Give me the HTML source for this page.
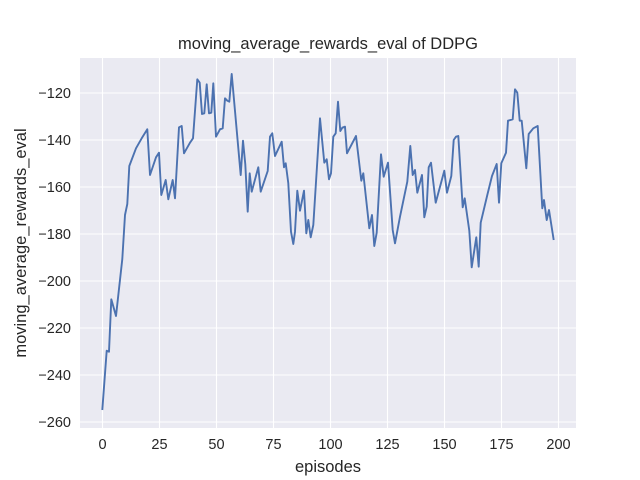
<!DOCTYPE html>
<html><head><style>body{margin:0;background:#fff}svg{display:block}text{font-family:"Liberation Sans",Arial,sans-serif;fill:#262626}</style></head><body>
<svg width="640" height="480" xmlns="http://www.w3.org/2000/svg">
<rect x="80" y="58" width="496" height="370" fill="#eaeaf2"/>
<g stroke="#fff" stroke-width="1.1">
<line x1="102.5" y1="58" x2="102.5" y2="428"/><line x1="159.5" y1="58" x2="159.5" y2="428"/><line x1="216.5" y1="58" x2="216.5" y2="428"/><line x1="273.5" y1="58" x2="273.5" y2="428"/><line x1="330.5" y1="58" x2="330.5" y2="428"/><line x1="387.5" y1="58" x2="387.5" y2="428"/><line x1="444.5" y1="58" x2="444.5" y2="428"/><line x1="501.5" y1="58" x2="501.5" y2="428"/><line x1="558.5" y1="58" x2="558.5" y2="428"/>
<line x1="80" y1="93" x2="576" y2="93"/><line x1="80" y1="140" x2="576" y2="140"/><line x1="80" y1="187" x2="576" y2="187"/><line x1="80" y1="234" x2="576" y2="234"/><line x1="80" y1="281" x2="576" y2="281"/><line x1="80" y1="328" x2="576" y2="328"/><line x1="80" y1="375" x2="576" y2="375"/><line x1="80" y1="422" x2="576" y2="422"/>
</g>
<polyline fill="none" stroke="#4c72b0" stroke-width="1.9" stroke-linejoin="round" points="102.3,410 106.7,350.7 109,351.7 111.3,299.3 116,316 122.3,259 125,215 127.3,204 129.3,166 136,148.3 141.7,138.3 147.3,129.3 150,175 156,157.3 159,152.7 161.3,195 165.7,180 168.3,199.3 172.7,180 175,198.3 179,127.3 181.7,126 184,153.3 190,142.7 193,138.3 197.3,79.3 199.7,82.7 202,114 204.3,113.3 206.7,84.3 209,113.3 211.3,112.7 213.3,83.3 216,136.7 220,129.3 222.7,128.3 225,98.3 227.3,100.7 229.3,101.7 231.7,74 240.7,175 243,140.7 245.3,164.3 247.7,211.7 249.7,173.3 251.7,191.7 258.3,167.3 260.7,191.7 267.7,171 270,136.7 272.3,133.3 275,156 281.7,141.7 284,167.3 285.7,163.3 288.3,183.3 291,231.7 293.3,244 295,231.7 297.3,190.7 300,210.7 304,190.7 306.3,233.3 308.3,220 310.7,237.3 313.3,225 320,118.3 324.3,162.7 326.7,159.3 329,179.3 331,173.3 333.3,136.7 335.7,133.3 338,101.7 340.3,131 342.3,127.7 345,126.7 347,153.3 356,136 361.3,180.7 363.3,173.3 369.3,228.3 372,215 374.3,246 376.7,232.7 381,154.3 383.7,176.7 388,162.7 392.7,230 395,243.3 400,216.7 407.3,181.7 410.3,146 412.7,175 415,170 417.3,192.7 422,175 424.3,217.3 426.7,206.7 428.7,167.3 431,162.7 435.7,202.7 444.3,170.7 447,192.7 451.3,176 453.7,140 456,136.7 458.3,136 462.7,207.3 464.7,198.3 469.3,230.7 471.7,267.3 476.3,237.3 478.7,266.7 480.7,222.7 487.3,195 492,176 496.7,164 499,202.7 501.3,163.3 506,152.7 508,120.7 512.7,119.3 515,89.3 517.3,92.7 519.7,120.7 521.7,120.7 526.3,168.3 528.7,134 533.3,128.3 537.7,126 542.3,208.3 544,200 546.7,220 549,210 553.7,240"/>
<g font-size="14.5" text-anchor="end">
<text x="71" y="98">−120</text><text x="71" y="145">−140</text><text x="71" y="192">−160</text><text x="71" y="239">−180</text><text x="71" y="286">−200</text><text x="71" y="333">−220</text><text x="71" y="380">−240</text><text x="71" y="427">−260</text>
</g>
<g font-size="14.5" text-anchor="middle">
<text x="102.5" y="449">0</text><text x="159.5" y="449">25</text><text x="216.5" y="449">50</text><text x="273.5" y="449">75</text><text x="330.5" y="449">100</text><text x="387.5" y="449">125</text><text x="444.5" y="449">150</text><text x="501.5" y="449">175</text><text x="558.5" y="449">200</text>
<text x="328" y="472" font-size="16.5">episodes</text>
<text x="328" y="49" font-size="16.5">moving_average_rewards_eval of DDPG</text>
<text transform="translate(26,243) rotate(-90)" font-size="16.5">moving_average_rewards_eval</text>
</g>
</svg>
</body></html>
